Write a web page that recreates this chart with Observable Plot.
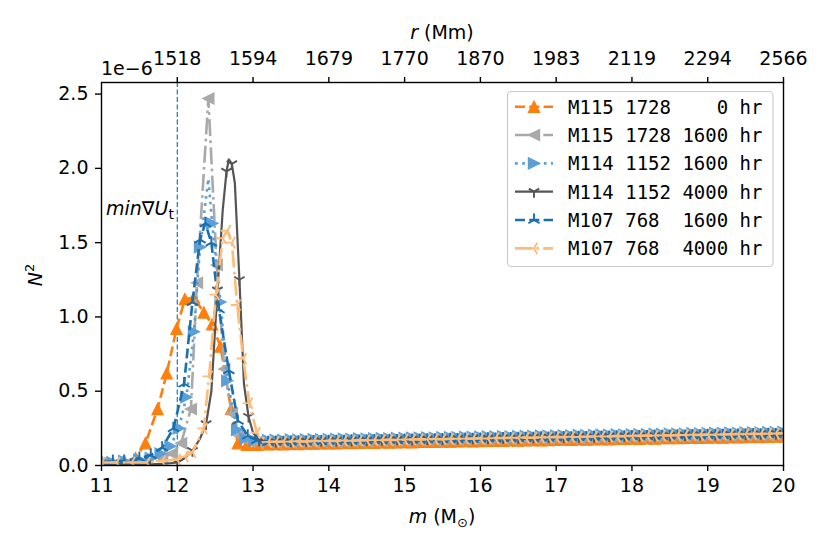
<!DOCTYPE html>
<html><head><meta charset="utf-8">
<script src="https://cdn.jsdelivr.net/npm/d3@7"></script>
<script src="https://cdn.jsdelivr.net/npm/@observablehq/plot@0.6"></script>
<style>
body{margin:0;background:#fff;}
#wrap{position:relative;width:830px;height:554px;}
</style></head><body><div id="wrap"></div>
<script>
// ---- data (N^2 in units of 1e-6) ----
const xTicks = [11,12,13,14,15,16,17,18,19,20];
const yTicks = [0,0.5,1.0,1.5,2.0,2.5];
const rTicks = [12,13,14,15,16,17,18,19,20];
const rLabels = ["1518","1594","1679","1770","1870","1983","2119","2294","2566"];
const labels = ["M115 1728    0 hr","M115 1728 1600 hr","M114 1152 1600 hr","M114 1152 4000 hr","M107 768  1600 hr","M107 768  4000 hr"];

const m1 = [11.0,11.15,11.3,11.45,11.58,11.74,11.86,11.99,12.1,12.22,12.35,12.46,12.57,12.71,12.8,12.92,13.05];
const n1 = [0.02,0.02,0.03,0.05,0.15,0.38,0.62,0.92,1.12,1.13,1.03,0.95,0.80,0.38,0.15,0.14,0.14];
const m2 = [11.0,11.2,11.4,11.6,11.8,11.93,12.05,12.18,12.26,12.41,12.52,12.62,12.72,12.82,12.95,13.05];
const n2 = [0.02,0.02,0.03,0.03,0.05,0.08,0.15,0.38,1.23,2.47,1.35,0.65,0.35,0.2,0.16,0.16];
const m3 = [11.0,11.15,11.3,11.5,11.65,11.78,11.91,12.02,12.12,12.22,12.3,12.41,12.46,12.57,12.66,12.79,12.9,13.02];
const n3 = [0.03,0.02,0.03,0.04,0.05,0.08,0.13,0.25,0.46,0.9,1.47,1.93,1.63,1.1,0.57,0.24,0.18,0.17];
const m4 = [11.0,11.3,11.6,11.8,12.0,12.1,12.2,12.3,12.38,12.45,12.53,12.6,12.65,12.68,12.72,12.76,12.82,12.88,12.94,13.0,13.08];
const n4 = [0.01,0.01,0.01,0.01,0.02,0.05,0.1,0.18,0.28,0.5,1.18,1.72,1.98,2.06,2.03,1.9,1.25,0.55,0.33,0.22,0.17];
const m5 = [11.0,11.15,11.3,11.5,11.65,11.8,11.95,12.09,12.2,12.3,12.37,12.45,12.55,12.68,12.8,12.93,13.05];
const n5 = [0.02,0.03,0.03,0.05,0.07,0.12,0.25,0.55,1.1,1.52,1.63,1.5,1.05,0.64,0.3,0.2,0.17];
const m6 = [11.0,11.2,11.4,11.6,11.8,12.0,12.1,12.2,12.35,12.42,12.51,12.6,12.66,12.72,12.79,12.87,12.95,13.05];
const n6 = [0.02,0.02,0.02,0.02,0.03,0.04,0.06,0.09,0.25,0.6,1.15,1.53,1.58,1.5,1.08,0.72,0.42,0.22];

const mFlat = [13.2,13.3,13.4,13.5,13.6,13.7,13.8,13.9,
 14.0,14.1,14.2,14.3,14.4,14.5,14.6,14.7,14.8,14.9,
 15.0,15.1,15.2,15.3,15.4,15.5,15.6,15.7,15.8,15.9,
 16.0,16.1,16.2,16.3,16.4,16.5,16.6,16.7,16.8,16.9,
 17.0,17.1,17.2,17.3,17.4,17.5,17.6,17.7,17.8,17.9,
 18.0,18.1,18.2,18.3,18.4,18.5,18.6,18.7,18.8,18.9,
 19.0,19.1,19.2,19.3,19.4,19.5,19.6,19.7,19.8,19.9,20.0];
const f1 = [0.142,0.145,0.143,0.146,0.145,0.148,0.147,0.149,
 0.150,0.149,0.152,0.151,0.153,0.154,0.153,0.156,0.155,0.157,
 0.158,0.157,0.159,0.160,0.159,0.162,0.161,0.163,0.164,0.163,
 0.165,0.166,0.167,0.166,0.169,0.168,0.170,0.171,0.170,0.172,
 0.173,0.174,0.173,0.176,0.175,0.177,0.178,0.177,0.179,0.180,
 0.181,0.180,0.183,0.182,0.184,0.185,0.184,0.186,0.187,0.186,
 0.188,0.189,0.188,0.191,0.190,0.192,0.193,0.192,0.194,0.195,0.196];
const f2 = [0.153,0.152,0.155,0.154,0.156,0.157,0.156,0.159,
 0.160,0.159,0.161,0.162,0.162,0.164,0.165,0.164,0.166,0.167,
 0.168,0.169,0.168,0.171,0.170,0.172,0.173,0.172,0.174,0.175,
 0.176,0.175,0.177,0.178,0.178,0.180,0.179,0.181,0.182,0.182,
 0.183,0.184,0.185,0.184,0.186,0.187,0.187,0.189,0.188,0.190,
 0.191,0.191,0.192,0.193,0.194,0.193,0.195,0.196,0.197,0.196,
 0.198,0.199,0.199,0.201,0.200,0.202,0.203,0.204,0.203,0.205,0.206];
const f3 = [0.170,0.172,0.171,0.174,0.173,0.175,0.176,0.175,
 0.177,0.178,0.179,0.178,0.181,0.180,0.182,0.183,0.182,0.184,
 0.185,0.186,0.186,0.188,0.187,0.189,0.190,0.190,0.192,0.191,
 0.193,0.194,0.194,0.196,0.195,0.197,0.198,0.198,0.200,0.199,
 0.201,0.202,0.202,0.204,0.203,0.205,0.206,0.206,0.208,0.207,
 0.209,0.210,0.210,0.212,0.211,0.213,0.214,0.214,0.216,0.215,
 0.217,0.218,0.218,0.220,0.219,0.221,0.222,0.222,0.224,0.223,0.225];
const f4 = [0.162,0.161,0.164,0.163,0.165,0.166,0.165,0.168,
 0.168,0.169,0.170,0.170,0.172,0.171,0.173,0.174,0.174,0.176,
 0.176,0.177,0.178,0.178,0.180,0.179,0.181,0.182,0.182,0.184,
 0.184,0.185,0.186,0.186,0.188,0.187,0.189,0.190,0.190,0.192,
 0.192,0.193,0.194,0.194,0.196,0.195,0.197,0.198,0.198,0.200,
 0.200,0.201,0.202,0.202,0.204,0.203,0.205,0.206,0.206,0.208,
 0.208,0.209,0.210,0.210,0.212,0.211,0.213,0.214,0.214,0.216,0.217];
const f5 = [0.156,0.158,0.157,0.159,0.160,0.159,0.162,0.161,
 0.163,0.164,0.163,0.166,0.165,0.167,0.168,0.167,0.170,0.169,
 0.171,0.172,0.171,0.174,0.173,0.175,0.176,0.175,0.178,0.177,
 0.179,0.180,0.179,0.182,0.181,0.183,0.184,0.183,0.186,0.185,
 0.187,0.188,0.187,0.190,0.189,0.191,0.192,0.191,0.194,0.193,
 0.195,0.196,0.195,0.198,0.197,0.199,0.200,0.199,0.202,0.201,
 0.203,0.204,0.203,0.206,0.205,0.207,0.208,0.207,0.210,0.209,0.211];
const f6 = [0.159,0.160,0.161,0.161,0.163,0.162,0.164,0.165,
 0.166,0.166,0.168,0.167,0.169,0.170,0.171,0.171,0.173,0.172,
 0.174,0.175,0.176,0.176,0.178,0.177,0.179,0.180,0.181,0.181,
 0.183,0.182,0.184,0.185,0.186,0.186,0.188,0.187,0.189,0.190,
 0.191,0.191,0.193,0.192,0.194,0.195,0.196,0.196,0.198,0.197,
 0.199,0.200,0.201,0.201,0.203,0.202,0.204,0.205,0.206,0.206,
 0.208,0.207,0.209,0.210,0.211,0.211,0.213,0.212,0.214,0.215,0.216];
const minGradX = 12;

// ---- symbols ----
function triangle(dir){
  return {draw(ctx,size){const r=Math.sqrt(size/Math.PI);
    if(dir==="up"){ctx.moveTo(0,-r);ctx.lineTo(r,r);ctx.lineTo(-r,r);}
    else if(dir==="left"){ctx.moveTo(-r,0);ctx.lineTo(r,-r);ctx.lineTo(r,r);}
    else {ctx.moveTo(r,0);ctx.lineTo(-r,r);ctx.lineTo(-r,-r);}
    ctx.closePath();}};
}
function tri(dir){
  const s=0.866;
  const sp = dir==="down"?[[0,1],[-s,-0.5],[s,-0.5]]: dir==="up"?[[0,-1],[-s,0.5],[s,0.5]]:[[-1,0],[0.5,-s],[0.5,s]];
  return {draw(ctx,size){const r=Math.sqrt(size/Math.PI); for(const [a,b] of sp){ctx.moveTo(0,0);ctx.lineTo(a*r,b*r);}}};
}

const styles = [
  {color:"#ff7f0e", dash:"10,4.3", sym:triangle("up"), r:5.6, filled:true, every:1, lw:2.6, skip:[]},
  {color:"#a9a9a9", dash:"17,4.3,2.7,4.3", sym:triangle("left"), r:5.6, filled:true, every:1, lw:2.6, skip:[]},
  {color:"#5b9fd6", dash:"2.7,4.5", sym:triangle("right"), r:5.6, filled:true, every:1, lw:2.6, skip:[11]},
  {color:"#555555", dash:null, sym:tri("down"), r:6, filled:false, every:2, lw:2.2, skip:[]},
  {color:"#1a6fae", dash:"10,4.3", sym:tri("up"), r:6.5, filled:false, every:1, lw:2.6, skip:[]},
  {color:"#ffbb78", dash:"17,4.3,2.7,4.3", sym:tri("left"), r:6.5, filled:false, every:1, lw:2.6, skip:[]}
];
const ms = [m1,m2,m3,m4,m5,m6], ns = [n1,n2,n3,n4,n5,n6], fs = [f1,f2,f3,f4,f5,f6];

const marks = [Plot.ruleX([minGradX], {stroke:"#1f77b4", strokeWidth:1.2, strokeDasharray:"5,2.5"})];
ms.forEach((m,i)=>{
  const st = styles[i];
  const ys = ns[i].concat(fs[i]);
  const pts = m.concat(mFlat).map((x,j)=>({m:x, n: ys[j]}));
  marks.push(Plot.line(pts,{x:"m",y:"n",stroke:st.color,strokeWidth:st.lw,strokeDasharray:st.dash||undefined,strokeLinecap:"butt",clip:true}));
  const dp = pts.filter((d,j)=>j%st.every===0 && !st.skip.includes(j));
  marks.push(Plot.dot(dp,{x:"m",y:"n",symbol:()=>st.sym,r:st.r,
    fill: st.filled?st.color:"none", stroke: st.color, strokeWidth: st.filled?1.2:1.9, clip:true}));
});
marks.push(Plot.frame({stroke:"black", strokeWidth:1.4}));
marks.push(Plot.axisX({anchor:"bottom", ticks:xTicks, tickSize:6, tickPadding:7, tickFormat:d=>String(d), label:null, strokeWidth:1.4}));
marks.push(Plot.axisX({anchor:"top", ticks:rTicks, tickSize:6, tickPadding:12, tickFormat:(d)=>rLabels[rTicks.indexOf(d)], label:null, strokeWidth:1.4}));
marks.push(Plot.axisY({anchor:"left", ticks:yTicks, tickSize:6, tickPadding:7, tickFormat:d3.format(".1f"), label:null, strokeWidth:1.4}));

const chart = Plot.plot({
  width:830, height:554,
  marginLeft:101, marginRight:47, marginTop:82, marginBottom:89,
  x:{domain:[11,20]},
  y:{domain:[0,2.578]},
  style:{fontFamily:"DejaVu Sans", fontSize:"19px", color:"black", background:"white", overflow:"visible"},
  marks
});
document.getElementById("wrap").appendChild(chart);

const svg = d3.select(chart);
const F = "DejaVu Sans";
// axis labels
let t = svg.append("text").attr("x",442).attr("y",523).attr("text-anchor","middle").attr("font-family",F).attr("font-size",19).attr("fill","black");
t.append("tspan").attr("font-style","italic").text("m");
t.append("tspan").text(" (M");
t.append("tspan").attr("font-size",13).attr("dy",4).text("⊙");
t.append("tspan").attr("dy",-4).text(")");
t = svg.append("text").attr("x",442).attr("y",39).attr("text-anchor","middle").attr("font-family",F).attr("font-size",19).attr("fill","black");
t.append("tspan").attr("font-style","italic").text("r");
t.append("tspan").text(" (Mm)");
t = svg.append("text").attr("transform","translate(42,275) rotate(-90)").attr("text-anchor","middle").attr("font-family",F).attr("font-size",19).attr("fill","black");
t.append("tspan").attr("font-style","italic").text("N");
t.append("tspan").attr("font-size",13).attr("dy",-8).text("2");
svg.append("text").attr("x",101).attr("y",75).attr("text-anchor","start").attr("font-family",F).attr("font-size",19).attr("fill","black").text("1e\u22126");
// annotation
t = svg.append("text").attr("x",106).attr("y",215).attr("text-anchor","start").attr("font-family",F).attr("font-size",19).attr("fill","black");
t.append("tspan").attr("font-style","italic").text("min");
t.append("tspan").text("∇");
t.append("tspan").attr("font-style","italic").text("U");
t.append("tspan").attr("font-size",14).attr("dy",4).text("t");

// legend
const lg = svg.append("g");
lg.append("rect").attr("x",507.5).attr("y",91.5).attr("width",265.5).attr("height",175).attr("rx",4)
  .attr("fill","white").attr("fill-opacity",0.8).attr("stroke","#cccccc").attr("stroke-width",1.2);
labels.forEach((lab,i)=>{
  const st = styles[i];
  const cy = 106.7 + i*28.33;
  lg.append("line").attr("x1",515).attr("x2",553).attr("y1",cy).attr("y2",cy).attr("stroke",st.color)
    .attr("stroke-width",st.lw).attr("stroke-dasharray",st.dash||null).attr("stroke-linecap","butt");
  const p = d3.path(); st.sym.draw(p, st.r*st.r*Math.PI);
  lg.append("path").attr("d",p.toString()).attr("transform",`translate(534,${cy})`)
    .attr("fill",st.filled?st.color:"none").attr("stroke",st.color).attr("stroke-width",st.filled?1.2:1.9);
  lg.append("text").attr("x",568).attr("y",cy+7).attr("text-anchor","start").attr("font-family","DejaVu Sans Mono").attr("font-size",19)
    .attr("fill","black").style("white-space","pre").text(lab);
});
</script></body></html>
